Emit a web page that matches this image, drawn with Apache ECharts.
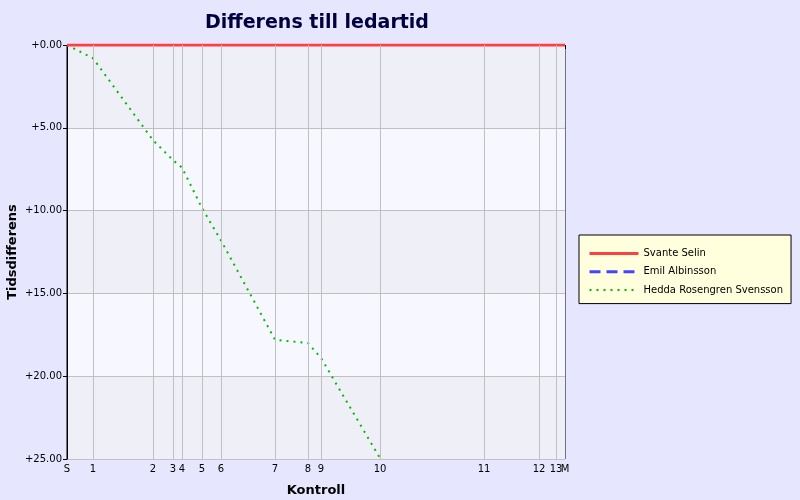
<!DOCTYPE html>
<html>
<head>
<meta charset="utf-8">
<script src="https://cdn.jsdelivr.net/npm/echarts@6/dist/echarts.min.js"></script>
<style>html,body{margin:0;padding:0;background:#e6e6ff;}#c{width:800px;height:500px;}</style>
</head>
<body>
<div id="c"></div>
<script>
// Control names and their positions along the x axis
var controls = ['S','1','2','3','4','5','6','7','8','9','10','11','12','13','M'];
var controlPos = [0, 26, 86, 106, 115, 135, 154, 208, 241, 254, 313, 417, 472, 489, 498];
// Time difference to leader (minutes) per control
var svanteSelin = [0,0,0,0,0,0,0,0,0,0,0,0,0,0,0];
var emilAlbinsson = [0,0,0,0,0,0,0,0,0,0,0,0,0,0,0];
var heddaRosengrenSvensson = [0, 0.8, 5.75, 6.95, 7.4, 9.85, 11.8, 17.8, 18.0, 18.9, 24.95];
var yTicks = [0, 5, 10, 15, 20, 25];

function pairs(vals){ return vals.map(function(v,i){ return [controlPos[i], v]; }); }
var posToName = {};
controlPos.forEach(function(p,i){ posToName[p] = controls[i]; });
var lastPos = controlPos[controlPos.length - 1];
var innerPos = controlPos.slice(0, controlPos.length - 1);

var font = 'DejaVu Sans';
var labelFmt = function(v){ return posToName[v] !== undefined ? posToName[v] : ''; };
var chart = echarts.init(document.getElementById('c'), null, {renderer:'canvas'});
chart.setOption({
  backgroundColor: '#e6e6ff',
  animation: false,
  textStyle: {fontFamily: font},
  title: {
    text: 'Differens till ledartid',
    left: 312, top: 9, textAlign: 'center',
    textStyle: {fontFamily: font, fontSize: 19, fontWeight: 'bold', color: '#000040'}
  },
  legend: {
    orient: 'vertical', left: 579, top: 235,
    padding: [13, 8, 8, 9],
    itemWidth: 49, itemHeight: 14, itemGap: 7,
    backgroundColor: '#ffffdd', borderColor: '#000', borderWidth: 1,
    itemStyle: {opacity: 0},
    textStyle: {fontFamily: font, fontSize: 10, color: '#000'},
    data: [
      {name: 'Svante Selin', lineStyle: {width: 3}},
      {name: 'Emil Albinsson', lineStyle: {width: 3}},
      {name: 'Hedda Rosengren Svensson'}
    ]
  },
  grid: {left: 67, right: 235, top: 45, bottom: 41, outerBoundsMode: 'none', containLabel: false,
    show: true, borderColor: '#000', borderWidth: 1, backgroundColor: 'transparent'},
  xAxis: [{
    type: 'value', min: 0, max: lastPos,
    name: 'Kontroll', nameLocation: 'middle', nameGap: 25,
    nameTextStyle: {fontFamily: font, fontSize: 13, fontWeight: 'bold', color: '#000'},
    axisLine: {show: true, lineStyle: {color: '#000', width: 1}},
    axisTick: {show: true, length: 4, lineStyle: {color: '#000'}, customValues: controlPos},
    axisLabel: {fontFamily: font, fontSize: 10, color: '#000', margin: 5, customValues: innerPos,
      showMinLabel: true, hideOverlap: false, formatter: labelFmt},
    splitLine: {show: false}
  }, {
    type: 'value', min: 0, max: lastPos, position: 'bottom',
    axisLine: {show: false}, axisTick: {show: false}, splitLine: {show: false},
    axisLabel: {fontFamily: font, fontSize: 10, color: '#000', margin: 5, customValues: [lastPos],
      showMaxLabel: true, formatter: labelFmt}
  }],
  yAxis: {
    type: 'value', min: 0, max: 25, interval: 5, inverse: true,
    name: 'Tidsdifferens', nameLocation: 'middle', nameGap: 48, nameRotate: 90,
    nameMoveOverlap: false,
    nameTextStyle: {fontFamily: font, fontSize: 13, fontWeight: 'bold', color: '#000'},
    axisLine: {show: true, lineStyle: {color: '#000', width: 1}},
    axisTick: {show: true, length: 4, lineStyle: {color: '#000'}},
    axisLabel: {fontFamily: font, fontSize: 10, color: '#000', margin: 5,
      formatter: function(v){ return '+' + v.toFixed(2); }},
    splitLine: {show: true, lineStyle: {color: '#c0c0c0', width: 1}},
    splitArea: {show: true, areaStyle: {color: ['#efeff7', '#f7f7ff']}}
  },
  series: [
    {
      name: '_grid', type: 'line', data: [], silent: true, symbol: 'none', z: 1,
      markLine: {
        silent: true, symbol: 'none', animation: false,
        label: {show: false},
        lineStyle: {color: '#c0c0c0', width: 1, type: 'solid'},
        data: controlPos.slice(1, controlPos.length - 1).map(function(p){ return {xAxis: p}; })
      }
    },
    {
      name: 'Emil Albinsson', type: 'line', data: pairs(emilAlbinsson), z: 2,
      symbol: 'none', color: '#4444ff',
      lineStyle: {color: '#4444ff', width: 2, type: [11, 6]}
    },
    {
      name: 'Svante Selin', type: 'line', data: pairs(svanteSelin), z: 4,
      symbol: 'none', color: '#ff4040',
      lineStyle: {color: '#ff4040', width: 3, type: 'solid'}
    },
    {
      name: 'Hedda Rosengren Svensson', type: 'line', data: pairs(heddaRosengrenSvensson), z: 3,
      symbol: 'none', color: '#00bb00',
      lineStyle: {color: '#00bb00', width: 2, type: [2, 5]}
    }
  ]
});
</script>
</body>
</html>
